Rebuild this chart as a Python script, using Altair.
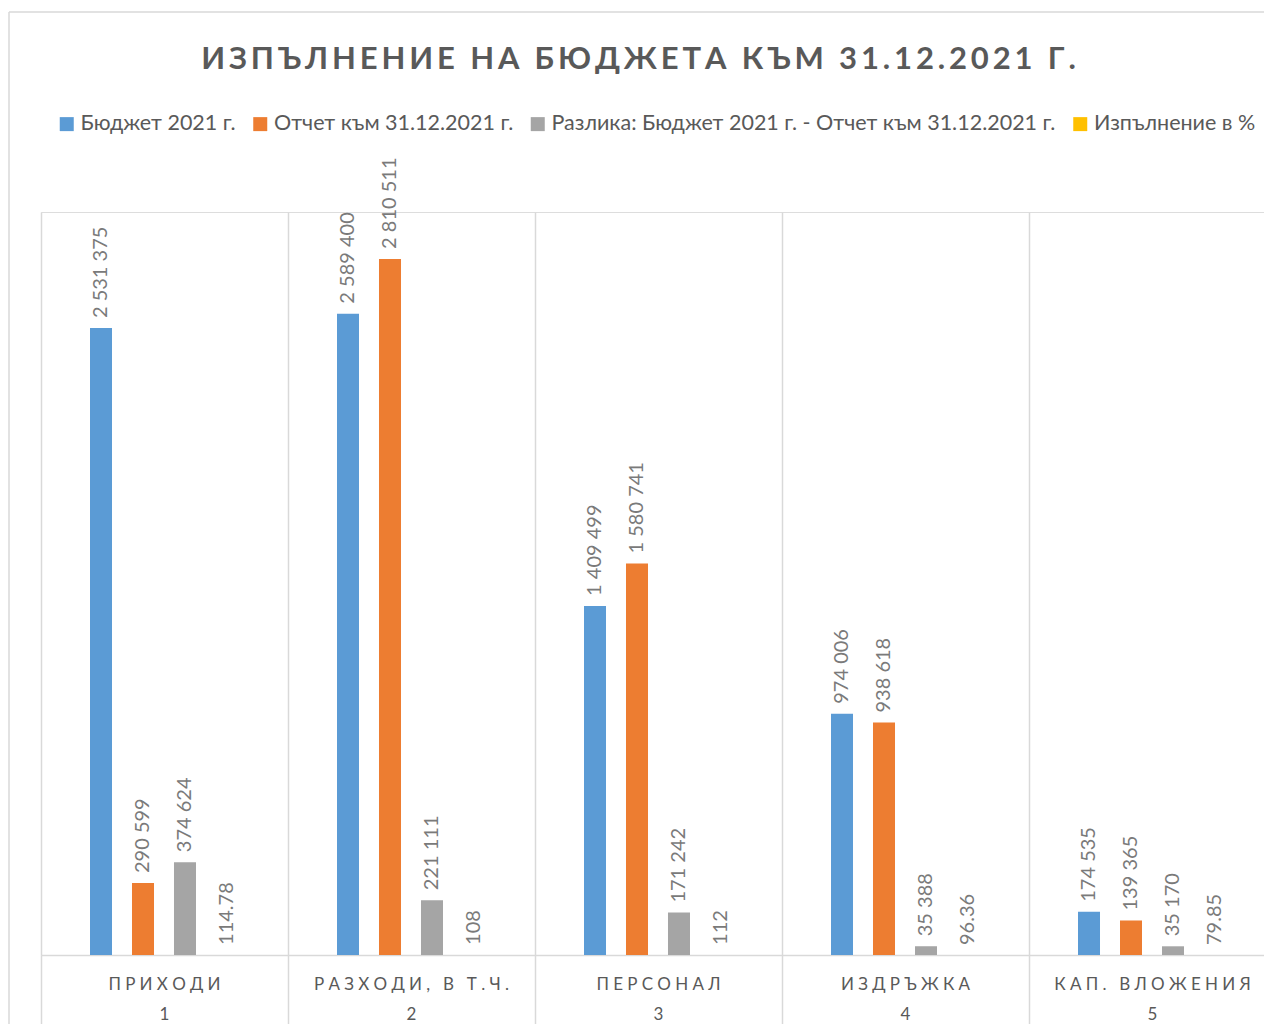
import altair as alt
import pandas as pd

categories = ["ПРИХОДИ", "РАЗХОДИ, В Т.Ч.", "ПЕРСОНАЛ", "ИЗДРЪЖКА", "КАП. ВЛОЖЕНИЯ"]
numbers = ["1", "2", "3", "4", "5"]
series = [
    "Бюджет 2021 г.",
    "Отчет към 31.12.2021 г.",
    "Разлика: Бюджет 2021 г. - Отчет към 31.12.2021 г.",
    "Изпълнение в %",
]
budget = [2531375, 2589400, 1409499, 974006, 174535]
report = [290599, 2810511, 1580741, 938618, 139365]
diff = [374624, 221111, 171242, 35388, 35170]
pct = [114.78, 108, 112, 96.36, 79.85]
colors = ["#5B9BD5", "#ED7D31", "#A5A5A5", "#FFC000"]

title_text = "ИЗПЪЛНЕНИЕ НА БЮДЖЕТА КЪМ 31.12.2021 Г."

SP = "\u2005"
TSP = "\u200A\u200A"


def fmt(v):
    if isinstance(v, int):
        return f"{v:,}".replace(",", " ")
    s = f"{v:.2f}".rstrip("0").rstrip(".")
    return s


rows = []
for i, c in enumerate(categories):
    for s, vals in zip(series, [budget, report, diff, pct]):
        rows.append({"category": c, "series": s, "value": vals[i], "label": fmt(vals[i])})
df = pd.DataFrame(rows)

cat_df = pd.DataFrame({
    "category": categories,
    "spaced": [SP.join(list(c)) for c in categories],
    "num": numbers,
})

FONT = "Lato"
W, H = 1223, 743
FULL = 1235  # five category bands of 247 px, the last one runs past the page edge

x_enc = alt.X(
    "category:N", sort=categories,
    scale=alt.Scale(range=[0, FULL], paddingInner=0, paddingOuter=0),
    axis=alt.Axis(labels=False, title=None, grid=True, gridColor="#D9D9D9", gridWidth=1.5,
                  tickBand="extent", ticks=True, tickSize=80, tickColor="#D9D9D9", tickWidth=1.5,
                  domainColor="#D9D9D9", domainWidth=1.5),
)
xo_enc = alt.XOffset("series:N", sort=series,
                     scale=alt.Scale(range=[49, 197], paddingInner=0.476, paddingOuter=0))
y_enc = alt.Y("value:Q", scale=alt.Scale(domain=[0, 3000000]), axis=None)

bars = alt.Chart(df).mark_bar().encode(
    x=x_enc, xOffset=xo_enc, y=y_enc,
    color=alt.Color("series:N", sort=series, scale=alt.Scale(domain=series, range=colors),
                    legend=alt.Legend(title=None, orient="none", legendX=15, legendY=-99,
                                      direction="horizontal", columns=4, columnPadding=13.5,
                                      padding=0,
                                      symbolType="square", symbolSize=196, symbolStrokeWidth=0,
                                      labelFont=FONT, labelFontSize=21.5, labelColor="#595959",
                                      labelOffset=3, labelLimit=1000)),
)

labels = alt.Chart(df).mark_text(angle=270, align="left", baseline="middle", dx=10,
                                  fontSize=20, font=FONT, color="#7A7A7A").encode(
    x=alt.X("category:N", sort=categories), xOffset=alt.XOffset("series:N", sort=series),
    y=alt.Y("value:Q"), text="label:N",
)

cat_text = alt.Chart(cat_df).mark_text(fontSize=17, font=FONT, color="#595959", baseline="middle").encode(
    x=alt.X("category:N", sort=categories), y=alt.value(773), text="spaced:N",
)
num_text = alt.Chart(cat_df).mark_text(fontSize=17, font=FONT, color="#595959", baseline="middle").encode(
    x=alt.X("category:N", sort=categories), y=alt.value(803), text="num:N",
)

frame_df = pd.DataFrame({"title": [TSP.join(list(title_text))]})
frame_left = alt.Chart(frame_df).mark_rule(color="#D9D9D9", strokeWidth=1.5).encode(
    x=alt.value(-32), y=alt.value(-200), y2=alt.value(830))
frame_top = alt.Chart(frame_df).mark_rule(color="#D9D9D9", strokeWidth=1.5).encode(
    x=alt.value(-32), x2=alt.value(W + 20), y=alt.value(-200))
title = alt.Chart(frame_df).mark_text(font=FONT, fontSize=31, fontWeight="bold", color="#595959",
                                      align="center", baseline="alphabetic").encode(
    x=alt.value(597.5), y=alt.value(-142.7), text="title:N")

chart = alt.layer(frame_left, frame_top, title, bars, labels, cat_text, num_text).properties(
    width=W, height=H,
    autosize=alt.AutoSizeParams(type="none"),
    padding={"left": 33, "top": 204, "right": 0, "bottom": 69},
).configure_view(stroke=None).configure(background="white")

chart.save("out.html", embed_options={"renderer": "svg", "actions": False})
